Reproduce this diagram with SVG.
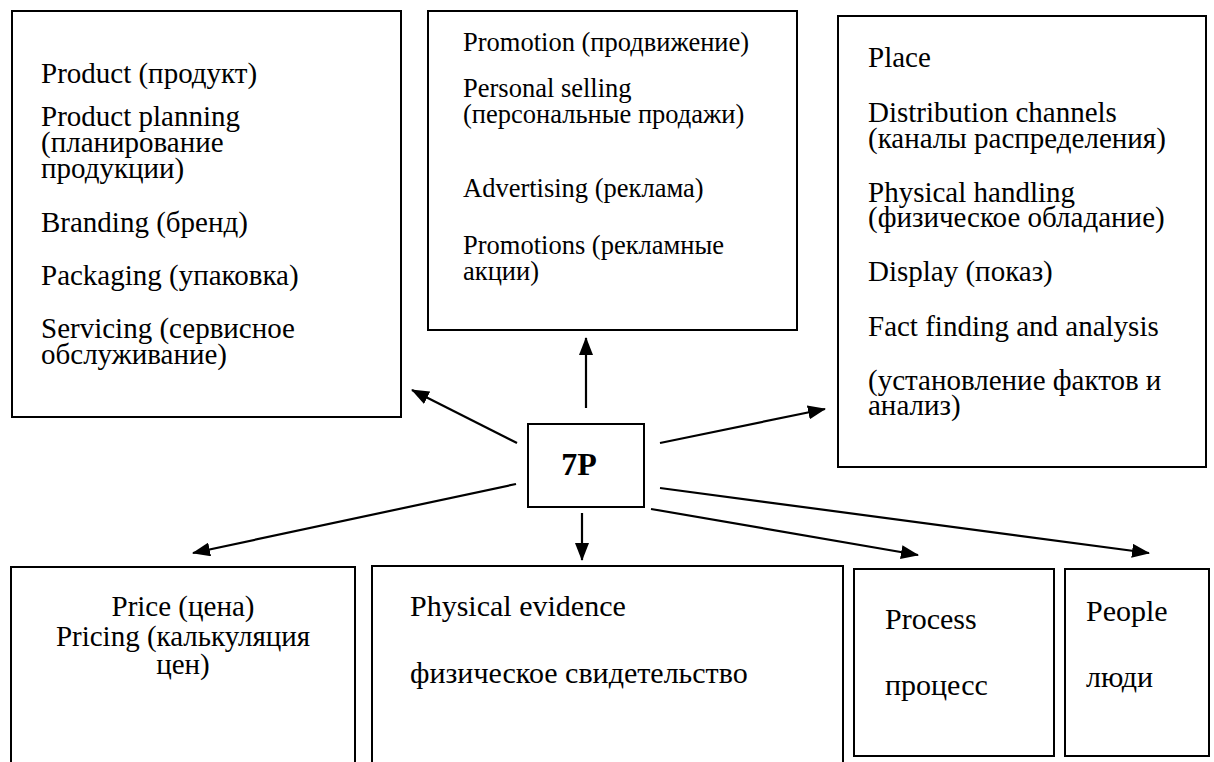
<svg xmlns="http://www.w3.org/2000/svg" width="1214" height="762" viewBox="0 0 1214 762">
<style>
.box{fill:#fff;stroke:#000;stroke-width:2}
text{font-family:'Liberation Serif','Times New Roman',serif;fill:#000}
.s29{font-size:29px}
.s26{font-size:26.5px}
.s30{font-size:30px}
.conn{stroke:#000;stroke-width:2.2;fill:none;marker-end:url(#arr)}
</style>
<defs>
<marker id="arr" markerUnits="userSpaceOnUse" markerWidth="18" markerHeight="14" refX="17" refY="7" orient="auto">
<path d="M0,0 L18,7 L0,14 z" fill="#000"/>
</marker>
</defs>
<rect width="1214" height="762" fill="#fff"/>
<g id="product">
<rect class="box" x="12" y="11" width="389" height="406"/>
<text class="s29" x="41" y="83">Product (продукт)</text>
<text class="s29" x="41" y="126">Product planning</text>
<text class="s29" x="41" y="152">(планирование</text>
<text class="s29" x="41" y="178">продукции)</text>
<text class="s29" x="41" y="232">Branding (бренд)</text>
<text class="s29" x="41" y="285">Packaging (упаковка)</text>
<text class="s29" x="41" y="338">Servicing (сервисное</text>
<text class="s29" x="41" y="364">обслуживание)</text>
</g>
<g id="promotion">
<rect class="box" x="428" y="11" width="369" height="319"/>
<text class="s26" x="463" y="51">Promotion (продвижение)</text>
<text class="s26" x="463" y="97">Personal selling</text>
<text class="s26" x="463" y="123">(персональные продажи)</text>
<text class="s26" x="463" y="197">Advertising (реклама)</text>
<text class="s26" x="463" y="254">Promotions (рекламные</text>
<text class="s26" x="463" y="280">акции)</text>
</g>
<g id="place">
<rect class="box" x="838" y="16" width="368" height="451"/>
<text class="s29" x="868" y="67">Place</text>
<text class="s29" x="868" y="122">Distribution channels</text>
<text class="s29" x="868" y="148">(каналы распределения)</text>
<text class="s29" x="868" y="202">Physical handling</text>
<text class="s29" x="868" y="227">(физическое обладание)</text>
<text class="s29" x="868" y="281">Display (показ)</text>
<text class="s29" x="868" y="336">Fact finding and analysis</text>
<text class="s29" x="868" y="390">(установление фактов и</text>
<text class="s29" x="868" y="415">анализ)</text>
</g>
<g id="sevenp">
<rect class="box" x="528" y="424" width="116" height="83"/>
<text x="579" y="475" font-size="32" font-weight="bold" text-anchor="middle">7P</text>
</g>
<g id="price">
<rect class="box" x="11" y="567" width="344" height="210"/>
<text class="s29" x="183" y="616" text-anchor="middle">Price (цена)</text>
<text class="s29" x="183" y="646" text-anchor="middle">Pricing (калькуляция</text>
<text class="s29" x="183" y="674" text-anchor="middle">цен)</text>
</g>
<g id="evidence">
<rect class="box" x="372" y="566" width="471" height="210"/>
<text class="s30" x="410" y="616">Physical evidence</text>
<text class="s30" x="410" y="683">физическое свидетельство</text>
</g>
<g id="process">
<rect class="box" x="854" y="569" width="200" height="187"/>
<text class="s30" x="885" y="629">Process</text>
<text class="s30" x="885" y="695">процесс</text>
</g>
<g id="people">
<rect class="box" x="1065" y="569" width="144" height="187"/>
<text class="s30" x="1086" y="621">People</text>
<text class="s30" x="1086" y="687">люди</text>
</g>
<g id="connectors">
<path class="conn" d="M517,443 L412,390"/>
<path class="conn" d="M586,408 L586,338"/>
<path class="conn" d="M660,443 L825,409"/>
<path class="conn" d="M516,484 L193,553"/>
<path class="conn" d="M582,513 L582,560"/>
<path class="conn" d="M651,509 L918,555"/>
<path class="conn" d="M660,488 L1149,553"/>
</g>
</svg>
